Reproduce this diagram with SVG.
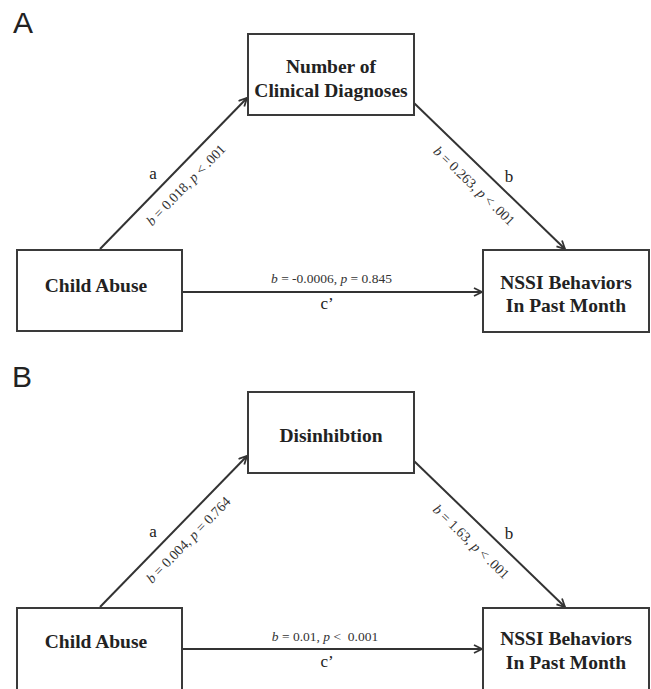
<svg xmlns="http://www.w3.org/2000/svg" width="651" height="689" viewBox="0 0 651 689">
<style>
.box{fill:#fff;stroke:#3a3a3a;stroke-width:2}
.nt{font-family:"Liberation Serif",serif;font-weight:bold;font-size:19.5px;fill:#222;text-anchor:middle}
.lbl{font-family:"Liberation Serif",serif;font-size:13.5px;fill:#333;text-anchor:middle}
.rl{font-family:"Liberation Serif",serif;font-size:14px;fill:#333;text-anchor:middle}
.lt{font-family:"Liberation Serif",serif;font-size:17px;fill:#222;text-anchor:middle}
.pan{font-family:"Liberation Sans",sans-serif;font-size:30px;fill:#222}
.ln{stroke:#333;stroke-width:2;fill:none}
</style>
<defs>
<marker id="ah" viewBox="0 0 10 10" refX="9" refY="5" markerWidth="10" markerHeight="10" markerUnits="userSpaceOnUse" orient="auto">
<path d="M1,1 L9,5 L1,9" fill="none" stroke="#333" stroke-width="1.8"/>
</marker>
</defs>
<rect width="651" height="689" fill="#fff"/>

<text class="pan" x="13" y="32.5">A</text>
<text class="pan" x="12" y="387">B</text>

<g id="connectors">
<line class="ln" x1="100" y1="249" x2="247" y2="98" marker-end="url(#ah)"/>
<line class="ln" x1="414" y1="103" x2="565" y2="249" marker-end="url(#ah)"/>
<line class="ln" x1="182" y1="292" x2="482" y2="292" marker-end="url(#ah)"/>
<line class="ln" x1="100" y1="607" x2="247" y2="456" marker-end="url(#ah)"/>
<line class="ln" x1="414" y1="461" x2="565" y2="607" marker-end="url(#ah)"/>
<line class="ln" x1="182" y1="649" x2="482" y2="649" marker-end="url(#ah)"/>

<text class="lt" x="153" y="179">a</text>
<text class="lt" x="509" y="182">b</text>
<text class="lt" x="327" y="309">c’</text>
<text class="lbl" x="331.5" y="283"><tspan font-style="italic">b</tspan> = -0.0006, <tspan font-style="italic">p</tspan> = 0.845</text>
<text class="rl" transform="translate(186,185) rotate(-45.8)" y="4.5"><tspan font-style="italic">b</tspan> = 0.018, <tspan font-style="italic">p</tspan> &lt; .001</text>
<text class="rl" transform="translate(474,186) rotate(44)" y="4.5"><tspan font-style="italic">b</tspan> = 0.263, <tspan font-style="italic">p</tspan> &lt; .001</text>

<text class="lt" x="153" y="537">a</text>
<text class="lt" x="509" y="539">b</text>
<text class="lt" x="327" y="667">c’</text>
<text class="lbl" x="325" y="641"><tspan font-style="italic">b</tspan> = 0.01, <tspan font-style="italic">p</tspan> &lt;&#160; 0.001</text>
<text class="rl" transform="translate(188.5,540) rotate(-45.8)" y="4.5"><tspan font-style="italic">b</tspan> = 0.004, <tspan font-style="italic">p</tspan> = 0.764</text>
<text class="rl" transform="translate(471,542) rotate(44)" y="4.5"><tspan font-style="italic">b</tspan> = 1.63, <tspan font-style="italic">p</tspan> &lt; .001</text>
</g>

<g id="A-mediator">
<rect class="box" x="248" y="34" width="166" height="81"/>
<text class="nt" x="331" y="73">Number of</text>
<text class="nt" x="331" y="97">Clinical Diagnoses</text>
</g>
<g id="A-child-abuse">
<rect class="box" x="17" y="250" width="165" height="81"/>
<text class="nt" x="96" y="292">Child Abuse</text>
</g>
<g id="A-nssi">
<rect class="box" x="483" y="250" width="166" height="82"/>
<text class="nt" x="566" y="289">NSSI Behaviors</text>
<text class="nt" x="566" y="312">In Past Month</text>
</g>

<g id="B-mediator">
<rect class="box" x="248" y="392" width="166" height="81"/>
<text class="nt" x="331" y="442">Disinhibtion</text>
</g>
<g id="B-child-abuse">
<rect class="box" x="17" y="608" width="165" height="90"/>
<text class="nt" x="96" y="648">Child Abuse</text>
</g>
<g id="B-nssi">
<rect class="box" x="483" y="608" width="166" height="90"/>
<text class="nt" x="566" y="645">NSSI Behaviors</text>
<text class="nt" x="566" y="669">In Past Month</text>
</g>
</svg>
